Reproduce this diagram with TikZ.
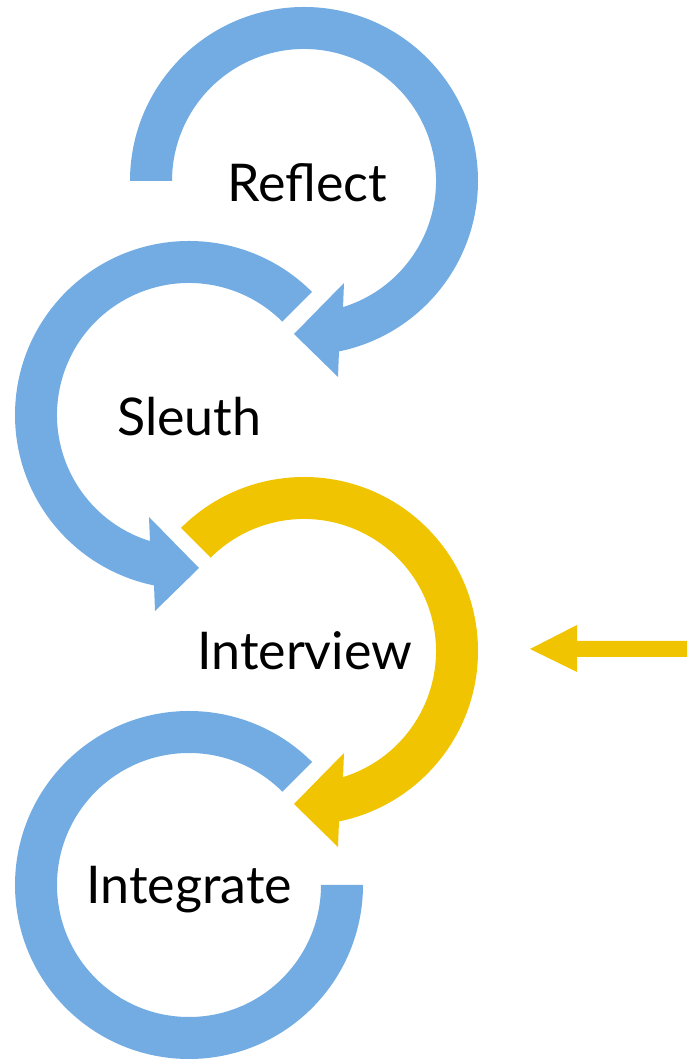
\documentclass[tikz,border=0pt]{standalone}
\usepackage{fontspec}
\setmainfont{Lato}
\definecolor{ringblue}{RGB}{114,172,227}
\definecolor{ringgold}{RGB}{240,196,0}
\begin{document}
\begin{tikzpicture}[x=1pt,y=1pt,
  label/.style={anchor=base west,inner sep=0pt,font=\fontsize{52}{60}\selectfont},
  ring/.style={fill=ringblue}]
\useasboundingbox (0,0) rectangle (692,1059);

% clockwise ring with arrowhead, opening at 180 deg
\begin{scope}[shift={(304,878)}]
  \fill[ring] (180:174pt) arc[start angle=180,end angle=-78.4,radius=174pt]
    -- (34pt,-196pt) -- (-10pt,-153pt) -- (40pt,-102pt)
    -- (-72.8:132pt) arc[start angle=-72.8,end angle=180,radius=132pt] -- cycle;
\end{scope}

% counter-clockwise ring with arrowhead
\begin{scope}[shift={(189,644)}]
  \fill[ring] (45:174pt) arc[start angle=45,end angle=258.4,radius=174pt]
    -- (-34pt,-196pt) -- (10pt,-153pt) -- (-40pt,-102pt)
    -- (252.8:132pt) arc[start angle=252.8,end angle=45,radius=132pt] -- cycle;
\end{scope}

% highlighted clockwise ring
\begin{scope}[shift={(304,408)}]
  \fill[ringgold] (135:174pt) arc[start angle=135,end angle=-78.4,radius=174pt]
    -- (34pt,-196pt) -- (-10pt,-153pt) -- (40pt,-102pt)
    -- (-72.8:132pt) arc[start angle=-72.8,end angle=135,radius=132pt] -- cycle;
\end{scope}

% last ring, no arrowhead
\begin{scope}[shift={(189,174)}]
  \fill[ring] (45:174pt) arc[start angle=45,end angle=360,radius=174pt]
    -- (0:132pt) arc[start angle=360,end angle=45,radius=132pt] -- cycle;
\end{scope}

% pointer to the current step
\fill[ringgold] (687,402) -- (577,402) -- (577,387) -- (530,410)
  -- (577,434) -- (577,418) -- (687,418) -- cycle;

\node[label] (reflect) at (227,857) {Reflect};
\node[label] (sleuth) at (117,623) {Sleuth};
\node[label] (interview) at (197,389) {Interview};
\node[label] (integrate) at (86,155) {Integrate};
\end{tikzpicture}
\end{document}
